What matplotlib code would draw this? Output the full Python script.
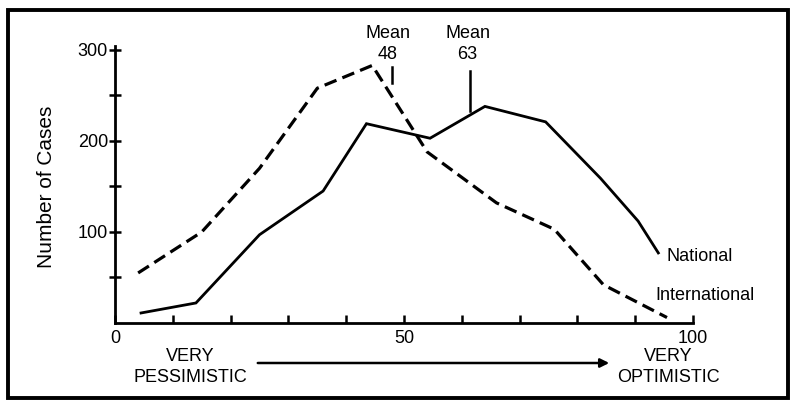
import matplotlib.pyplot as plt
from matplotlib.patches import Rectangle

plt.rcParams['font.family'] = ['Liberation Sans', 'DejaVu Sans']

# Ratings (bin midpoints) and counts
intl_x = [4, 15, 25, 35, 44.5, 54, 66, 76, 84.5, 95.5]
intl_y = [55, 100, 170, 258, 283, 188, 132, 103, 42, 6]

nat_x = [4.5, 14, 25, 36, 43.5, 54.5, 64, 74.5, 84, 90.5, 94]
nat_y = [11, 22, 97, 145, 219, 203, 238, 221, 159, 112, 77]

means = [48, 61.5]
mean_labels = ['Mean\n48', 'Mean\n63']

fig = plt.figure(figsize=(7.95, 4.09), dpi=100)
ax = fig.add_axes([0.1447, 0.2103, 0.727, 0.6675])

ax.plot(nat_x, nat_y, color='black', lw=2.0, solid_joinstyle='miter')
ax.plot(intl_x, intl_y, color='black', lw=2.3, dashes=(4.0, 2.0))

ax.set_xlim(0, 100)
ax.set_ylim(0, 300)
for s in ['top', 'right']:
    ax.spines[s].set_visible(False)
ax.spines['left'].set_linewidth(2.0)
ax.spines['bottom'].set_linewidth(2.0)
ax.spines['left'].set_bounds(0, 304)

ax.set_xticks(range(0, 101, 10))
ax.set_xticklabels(['0', '', '', '', '', '50', '', '', '', '', '100'], fontsize=13)
ax.tick_params(axis='x', direction='in', length=6, width=1.8, pad=5)
ax.set_yticks([50, 100, 150, 200, 250, 300])
ax.set_yticklabels(['', '100', '', '200', '', '300'], fontsize=13)
ax.tick_params(axis='y', direction='inout', length=8, width=1.8, pad=1)
ax.set_ylabel('Number of Cases', fontsize=15, labelpad=16)

# mean markers
ax.plot([means[0], means[0]], [264, 281], color='black', lw=1.8, clip_on=False)
ax.text(47.2, 286, mean_labels[0], ha='center', va='bottom', fontsize=13,
        linespacing=1.25, clip_on=False)
ax.plot([means[1], means[1]], [233, 277], color='black', lw=1.8, clip_on=False)
ax.text(61.0, 286, mean_labels[1], ha='center', va='bottom', fontsize=13,
        linespacing=1.25, clip_on=False)

# series labels
ax.text(95.5, 73, 'National', ha='left', va='center', fontsize=13, clip_on=False)
ax.text(93.5, 30, 'International', ha='left', va='center', fontsize=13,
        clip_on=False)

# scale direction labels below the axis
fig.text(190 / 795, 1 - 367 / 409, 'VERY\nPESSIMISTIC', ha='center', va='center',
         fontsize=13, linespacing=1.25)
fig.text(668 / 795, 1 - 367 / 409, 'VERY\nOPTIMISTIC', ha='center', va='center',
         fontsize=13, linespacing=1.25)
ax.annotate('', xy=(612 / 795, 1 - 363 / 409), xytext=(255 / 795, 1 - 363 / 409),
            xycoords='figure fraction', textcoords='figure fraction',
            arrowprops=dict(arrowstyle='-|>', lw=1.8, color='black',
                            mutation_scale=13))

# frame around the whole figure
fig.patches.append(Rectangle((8 / 795, 1 - 398 / 409), 780 / 795, 388 / 409,
                             transform=fig.transFigure, fill=False,
                             lw=2.8, edgecolor='black'))

fig.savefig('out.png', dpi=100)
